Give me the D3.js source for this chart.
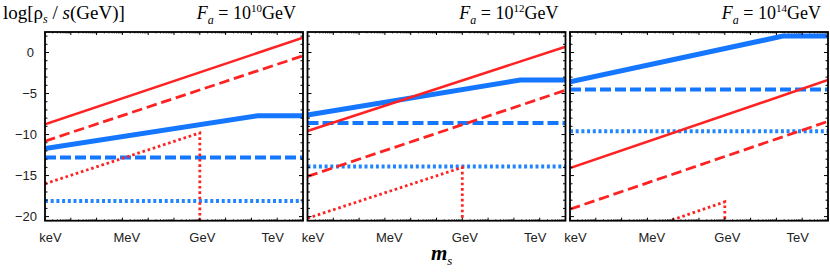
<!DOCTYPE html>
<html>
<head>
<meta charset="utf-8">
<script src="https://cdn.jsdelivr.net/npm/d3@7"></script>
<style>
  html, body { margin: 0; padding: 0; background: #fff; }
  svg { display: block; }
</style>
</head>
<body>
<div id="chart"></div>
<script>
// ---------- data ----------
const xDomain = [-6, 4];            // log10(m_s / GeV): keV .. 10 TeV
const yDomain = [-20.5, 2.5];       // log[rho_s / s (GeV)]
const massLabels = ["keV", "MeV", "GeV", "TeV"];
const massLog = [-6, -3, 0, 3];
const yTickValues = [0, -5, -10, -15, -20];
const faExponents = ["10", "12", "14"];

// each series: one list of [log10 m, value] points per panel
const redSolid = [
  [[-6, -8.75], [4, 1.8]],
  [[-6, -9.57], [4, 0.7]],
  [[-6, -14.1], [4, -3.35]]
];
const redDashed = [
  [[-6, -10.8], [4, -0.4]],
  [[-6, -15.1], [4, -4.6]],
  [[-6, -19.1], [4, -8.4]]
];
const redDotted = [
  [[-6, -16.0], [0, -9.8], [0, -21]],
  [[-6, -20.2], [0, -14.0], [0, -21]],
  [[-6, -24.7], [0, -18.2], [0, -21]]
];
const blueSolid = [
  [[-6, -11.7], [2.25, -7.7], [4, -7.7]],
  [[-6, -7.62], [2.25, -3.35], [4, -3.35]],
  [[-6, -3.56], [2.25, 2.0], [4, 2.0]]
];
const blueDashed = [-12.8, -8.6, -4.5];
const blueDotted = [-18.1, -13.9, -9.6];

// ---------- layout ----------
const W = 830, H = 272;
const lefts = [45, 307.5, 570];
const PW = 258;
const yTop = 32, yBottom = 220.7;
const RED = "#ff2222", BLUE = "#1577ff", BLUE_DOT = "#2185ff";

const svg = d3.select("#chart").append("svg")
  .attr("width", W).attr("height", H)
  .attr("font-family", "'Liberation Sans', Arial, sans-serif");

const line = (x, y) => d3.line().x(d => x(d[0])).y(d => y(d[1]));

faExponents.forEach((ex, i) => {
  const left = lefts[i], right = left + PW;
  const x = d3.scaleLinear().domain(xDomain).range([left, right]);
  const y = d3.scaleLinear().domain(yDomain).range([yBottom, yTop]);
  const g = svg.append("g");

  const clipId = "clip" + i;
  svg.append("clipPath").attr("id", clipId)
    .append("rect").attr("x", left).attr("y", yTop)
    .attr("width", PW).attr("height", yBottom - yTop);

  const lines = g.append("g").attr("clip-path", `url(#${clipId})`)
    .attr("fill", "none");

  lines.append("path")
    .attr("d", line(x, y)([[xDomain[0], blueDotted[i]], [xDomain[1], blueDotted[i]]]))
    .attr("stroke", BLUE_DOT).attr("stroke-width", 4).attr("stroke-dasharray", "3,2.7");
  lines.append("path")
    .attr("d", line(x, y)([[xDomain[0], blueDashed[i]], [xDomain[1], blueDashed[i]]]))
    .attr("stroke", BLUE).attr("stroke-width", 4).attr("stroke-dasharray", "11,4");
  lines.append("path")
    .attr("d", line(x, y)(blueSolid[i]))
    .attr("stroke", BLUE).attr("stroke-width", 5).attr("stroke-linejoin", "miter");
  lines.append("path")
    .attr("d", line(x, y)(redDotted[i]))
    .attr("stroke", RED).attr("stroke-width", 2.8).attr("stroke-dasharray", "2.6,2.8");
  lines.append("path")
    .attr("d", line(x, y)(redDashed[i]))
    .attr("stroke", RED).attr("stroke-width", 2.8).attr("stroke-dasharray", "10.5,4.8");
  lines.append("path")
    .attr("d", line(x, y)(redSolid[i]))
    .attr("stroke", RED).attr("stroke-width", 2.5);

  // ticks (inside, all four sides)
  const yMinor = d3.range(-20, 3, 1);
  const xMajor = d3.range(-6, 5, 1);
  const xMinor = [];
  d3.range(-6, 4, 1).forEach(d => { for (let k = 2; k < 10; k++) xMinor.push(d + Math.log10(k)); });

  const tk = g.append("g").attr("stroke", "#000").attr("stroke-width", 1);
  yMinor.forEach(v => {
    const len = (v % 5 === 0) ? 4 : 2.5;
    tk.append("line").attr("x1", left).attr("x2", left + len).attr("y1", y(v)).attr("y2", y(v));
    tk.append("line").attr("x1", right).attr("x2", right - len).attr("y1", y(v)).attr("y2", y(v));
  });
  xMajor.forEach(v => {
    tk.append("line").attr("x1", x(v)).attr("x2", x(v)).attr("y1", yTop).attr("y2", yTop + 3);
    tk.append("line").attr("x1", x(v)).attr("x2", x(v)).attr("y1", yBottom).attr("y2", yBottom - 3);
  });
  xMinor.forEach(v => {
    tk.append("line").attr("x1", x(v)).attr("x2", x(v)).attr("y1", yTop).attr("y2", yTop + 1.5).attr("stroke-width", 0.7);
    tk.append("line").attr("x1", x(v)).attr("x2", x(v)).attr("y1", yBottom).attr("y2", yBottom - 1.5).attr("stroke-width", 0.7);
  });

  // frame
  g.append("rect").attr("x", left).attr("y", yTop)
    .attr("width", PW).attr("height", yBottom - yTop)
    .attr("fill", "none").attr("stroke", "#000").attr("stroke-width", 1.8);

  // x tick labels
  const labelDx = [5, 4, 2, -5];
  const xa = g.append("g").attr("transform", `translate(0,${yBottom})`)
    .call(d3.axisBottom(x).tickValues(massLog)
      .tickFormat((d, j) => massLabels[j]).tickSize(0).tickPadding(11.6));
  xa.select(".domain").remove();
  xa.selectAll("text").attr("font-size", 13).attr("fill", "#222")
    .attr("font-family", "'Liberation Sans', Arial, sans-serif")
    .attr("dx", (d, j) => labelDx[j]);

  if (i === 0) {
    const ya = g.append("g").attr("transform", `translate(${left},0)`)
      .call(d3.axisLeft(y).tickValues(yTickValues).tickSize(0).tickPadding(8));
    ya.select(".domain").remove();
    ya.selectAll("text").attr("font-size", 13).attr("fill", "#222")
      .attr("font-family", "'Liberation Sans', Arial, sans-serif")
      .attr("dx", d => d === 0 ? -3 : 0);
  }

  // panel title  F_a = 10^ex GeV
  const t = svg.append("text")
    .attr("x", right - 7).attr("y", 19)
    .attr("text-anchor", "end")
    .attr("font-family", "'Liberation Serif', 'Times New Roman', serif")
    .attr("font-size", 18).attr("fill", "#000");
  t.append("tspan").attr("font-style", "italic").text("F");
  t.append("tspan").attr("font-style", "italic").attr("font-size", 12).attr("dy", 5).text("a");
  t.append("tspan").attr("dy", -5).text(" = 10");
  t.append("tspan").attr("font-size", 11).attr("dy", -7).text(ex);
  t.append("tspan").attr("dy", 7).text("GeV");
});

// y-axis title: log[rho_s / s(GeV)]
const yt = svg.append("text").attr("x", 3).attr("y", 19)
  .attr("font-family", "'Liberation Serif', 'Times New Roman', serif")
  .attr("font-size", 19).attr("fill", "#000");
yt.append("tspan").text("log[ρ");
yt.append("tspan").attr("font-style", "italic").attr("font-size", 12).attr("dy", 4).text("s");
yt.append("tspan").attr("dy", -4).text(" / ");
yt.append("tspan").attr("font-style", "italic").text("s");
yt.append("tspan").text("(GeV)]");

// x-axis title: m_s
const xt = svg.append("text").attr("x", 431).attr("y", 260)
  .attr("font-family", "'Liberation Serif', 'Times New Roman', serif")
  .attr("font-size", 21).attr("font-weight", "bold").attr("font-style", "italic").attr("fill", "#000");
xt.append("tspan").text("m");
xt.append("tspan").attr("font-size", 13).attr("font-weight", "normal").attr("dy", 5).text("s");
</script>
</body>
</html>
